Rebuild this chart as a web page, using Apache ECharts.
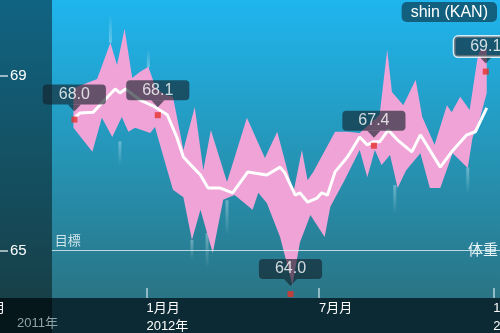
<!DOCTYPE html>
<html><head><meta charset="utf-8">
<script src="https://cdn.jsdelivr.net/npm/echarts@6/dist/echarts.min.js"></script>
<style>html,body{margin:0;padding:0;background:#000}#c{width:500px;height:333px}</style>
</head><body><div id="c"></div>
<script>
const FONT = '"Liberation Sans","Noto Sans CJK JP",sans-serif';

// x-axis ticks (half-year)
const tickDates = ['2011-07-01','2012-01-01','2012-07-01','2013-01-01'];
const yTicks = [65, 69];
const goal = 65;

// upper edge of daily range band
const upperDates = ['2011-10-16','2011-11-10','2011-11-24','2011-12-01','2011-12-09','2011-12-17','2011-12-25','2012-01-03','2012-01-11','2012-01-21','2012-01-29','2012-02-09','2012-02-21','2012-03-01','2012-03-09','2012-03-26','2012-04-16','2012-05-05','2012-05-18','2012-06-04','2012-06-13','2012-06-19','2012-06-25','2012-07-18','2012-07-31','2012-08-13','2012-09-03','2012-09-11','2012-09-16','2012-09-28','2012-10-11','2012-10-18','2012-10-31','2012-11-13','2012-11-18','2012-11-27','2012-12-07','2012-12-15','2012-12-18','2012-12-25'];
const upperVals = [68.72,68.93,69.76,69.25,70.08,68.95,69.09,69.21,68.72,68.56,68.52,67.30,68.29,66.84,67.76,66.57,68.04,67.12,67.72,66.32,67.30,66.61,66.80,67.72,67.72,67.69,68.11,69.60,68.63,68.33,68.91,68.06,67.42,68.33,68.17,68.52,68.22,69.37,69.60,69.60];

// lower edge of band
const lowerDates = ['2011-10-16','2011-11-05','2011-11-15','2011-11-26','2011-12-06','2011-12-13','2011-12-20','2011-12-27','2012-01-05','2012-01-10','2012-01-23','2012-01-29','2012-02-09','2012-02-18','2012-02-27','2012-03-11','2012-03-22','2012-04-03','2012-04-22','2012-04-28','2012-05-07','2012-05-21','2012-06-03','2012-06-11','2012-06-22','2012-07-07','2012-07-13','2012-07-28','2012-08-13','2012-08-21','2012-08-29','2012-09-05','2012-09-14','2012-09-22','2012-10-01','2012-10-16','2012-10-26','2012-11-06','2012-11-19','2012-12-05','2012-12-10','2012-12-18','2012-12-25'];
const lowerVals = [67.81,67.26,68.04,67.60,68.06,67.72,67.81,67.76,67.69,67.83,66.84,66.39,66.22,65.24,65.93,64.94,66.16,66.27,65.93,66.32,66.09,65.31,64.21,65.19,65.81,65.31,66.00,66.61,67.30,66.68,67.30,66.96,67.19,66.43,66.84,67.23,66.43,66.43,67.23,66.89,67.58,68.04,68.61];

// moving average (white line)
const avgDates = ['2011-10-18','2011-10-23','2011-11-06','2011-11-15','2011-11-29','2011-12-04','2011-12-10','2011-12-25','2012-01-10','2012-01-23','2012-02-02','2012-02-09','2012-02-19','2012-02-27','2012-03-06','2012-03-19','2012-04-01','2012-04-17','2012-05-07','2012-05-21','2012-05-26','2012-06-06','2012-06-11','2012-06-19','2012-06-29','2012-07-04','2012-07-10','2012-07-18','2012-07-31','2012-08-13','2012-08-21','2012-08-27','2012-09-03','2012-09-12','2012-09-22','2012-10-07','2012-10-16','2012-11-06','2012-11-18','2012-12-04','2012-12-13','2012-12-25'];
const avgVals = [68.06,68.15,68.17,68.38,68.70,68.61,68.70,68.45,68.29,68.11,67.60,67.14,66.91,66.73,66.43,66.43,66.32,66.80,66.73,66.91,66.78,66.27,66.32,66.11,66.20,66.32,66.27,66.80,67.14,67.60,67.42,67.49,67.49,67.76,67.53,67.26,67.65,66.91,67.26,67.65,67.72,68.27];

// highlighted measurements
const markDates = ['2011-10-17','2012-01-13','2012-06-01','2012-08-28','2012-12-24'];
const markVals = [68.0,68.1,64.0,67.4,69.1];

// faint glow streaks
const glowDates = ['2011-11-24','2012-01-03','2011-12-04','2012-02-18','2012-03-05','2012-03-26','2012-09-19','2012-12-05'];
const glowFar  = [70.40,69.60,66.95,64.80,64.60,65.35,65.85,66.30];
const glowNear = [69.76,69.20,67.50,65.24,65.40,66.15,66.50,66.90];

function T(s){const p=s.split('-').map(Number);return new Date(p[0],p[1]-1,p[2]).getTime();}

const chart = echarts.init(document.getElementById('c'), null, {renderer:'canvas'});
const boxBg = 'rgba(20,32,42,0.78)';

const option = {
  animation:false,
  backgroundColor: new echarts.graphic.LinearGradient(0,0,0,1,[
    {offset:0,color:'#1fb5ee'},{offset:0.45,color:'#2596b8'},{offset:0.9,color:'#2a7484'},{offset:1,color:'#2a7080'}]),
  textStyle:{fontFamily:FONT},
  title:{text:'shin (KAN)', right:3, top:2, padding:[2,9,1,9], backgroundColor:'rgba(12,45,62,0.62)', borderRadius:5,
    textStyle:{color:'#fff', fontSize:16, fontWeight:'normal', lineHeight:17, fontFamily:FONT}},
  grid:{left:-28, right:0, top:0, bottom:35, containLabel:false, outerBoundsMode:'none'},
  xAxis:{type:'value', min:T('2011-07-01'), max:T('2013-01-08'), z:10,
    axisLine:{show:false}, splitLine:{show:false},
    axisTick:{show:true, inside:true, length:10, customValues:tickDates.map(T), lineStyle:{color:'rgba(225,240,245,0.75)', width:1.5}},
    axisLabel:{customValues:tickDates.map(T), align:'left', margin:1, showMinLabel:true, showMaxLabel:true, hideOverlap:false,
      formatter:function(v){const d=new Date(v);const m=d.getMonth()+1;let s='{a|'+m+'月月}';if(m===1)s+='\n{b|'+d.getFullYear()+'年}';return s;},
      rich:{a:{color:'#fff',fontSize:13,lineHeight:18,fontFamily:FONT},b:{color:'#fff',fontSize:13,lineHeight:18,fontFamily:FONT}}}
  },
  yAxis:{type:'value', min:63.91, max:70.74, offset:-28, z:10,
    axisLine:{show:false}, splitLine:{show:false},
    axisTick:{show:true, inside:true, length:8, customValues:yTicks, lineStyle:{color:'rgba(230,240,245,0.85)', width:1.5}},
    axisLabel:{inside:true, margin:10, color:'#fff', fontSize:15, customValues:yTicks}
  },
  graphic:[
    {type:'rect', left:0, top:298, shape:{width:500,height:35}, style:{fill:'#0c2a33'}, z:5},
    {type:'rect', left:0, top:0, shape:{width:52,height:333}, style:{fill:'rgba(0,0,0,0.45)'}, z:6},
    {type:'text', left:17, top:317, style:{text:'2011年', fill:'#8ea2a9', font:'13px '+FONT}, z:11}
  ],
  series:[
    {type:'custom', name:'glow', z:1, silent:true, encode:{x:0,y:[1,2]},
      data: glowDates.map((d,i)=>[T(d), glowFar[i], glowNear[i]]),
      renderItem:function(params, api){
        const a=api.coord([api.value(0),api.value(1)]), b=api.coord([api.value(0),api.value(2)]);
        const top=Math.min(a[1],b[1]), h=Math.abs(a[1]-b[1]);
        const farTop = a[1]<b[1];
        const stops = farTop ? [{offset:0,color:'rgba(255,255,255,0)'},{offset:1,color:'rgba(230,245,255,0.35)'}]
                             : [{offset:0,color:'rgba(230,245,255,0.35)'},{offset:1,color:'rgba(255,255,255,0)'}];
        return {type:'rect', shape:{x:a[0]-1.5,y:top,width:3,height:h}, style:{fill:new echarts.graphic.LinearGradient(0,0,0,1,stops)}};
      }
    },
    {type:'custom', name:'range', z:2, silent:true, encode:{x:0,y:1},
      data:[[T(upperDates[0]), upperVals[0]]],
      renderItem:function(params, api){
        const pts=[];
        upperDates.forEach((d,i)=>pts.push(api.coord([T(d),upperVals[i]])));
        for(let i=lowerDates.length-1;i>=0;i--) pts.push(api.coord([T(lowerDates[i]),lowerVals[i]]));
        return {type:'polygon', shape:{points:pts}, style:{fill:'#efa3d7'}};
      }
    },
    {type:'line', name:'avg', z:3, symbol:'none', silent:true,
      data: avgDates.map((d,i)=>[T(d),avgVals[i]]),
      lineStyle:{color:'#ffffff', width:3},
      markLine:{silent:true, symbol:['none','none'], animation:false,
        lineStyle:{color:'rgba(225,240,245,0.8)', width:1.2, type:'solid'},
        data:[
          [{name:'目標', coord:[T('2011-09-23'),goal], label:{show:true, position:'insideStartTop', formatter:'{b}', color:'#cfe4ea', fontSize:13, distance:3}},
           {coord:[T('2013-01-08'),goal]}],
          [{name:'体重', coord:[T('2011-09-23'),goal], lineStyle:{color:'rgba(0,0,0,0)', width:0.1}, label:{show:true, position:'end', formatter:'{b}', color:'#e8f4f8', fontSize:15, distance:3}},
           {coord:[T('2012-12-02'),goal]}]
        ]}
    },
    {type:'scatter', name:'pointer', z:5, silent:true,
      data: markDates.map((d,i)=>[T(d),markVals[i]]),
      symbol:'path://M0,0L12,0L6,7Z', symbolSize:[13,7], symbolOffset:[0,-11.5],
      itemStyle:{color:boxBg}
    },
    {type:'scatter', name:'marks', z:6, silent:true,
      data: markDates.map((d,i)=>{
        const o={value:[T(d),markVals[i]]};
        if(i===markDates.length-1) o.label={borderColor:'#ffffff', borderWidth:1.5};
        return o;}),
      symbol:'rect', symbolSize:6, itemStyle:{color:'#e5322d'},
      label:{show:true, position:'top', distance:12, formatter:p=>p.value[1].toFixed(1),
        color:'#fff', fontSize:16, lineHeight:16, padding:[2,16], backgroundColor:boxBg, borderRadius:4, fontFamily:FONT}
    }
  ]
};
chart.setOption(option);
</script>
</body></html>
